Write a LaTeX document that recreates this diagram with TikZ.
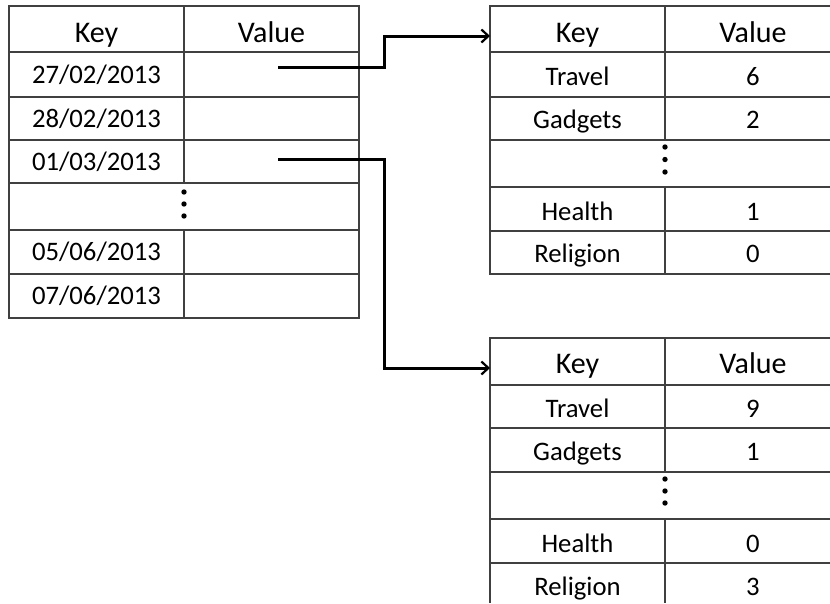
\documentclass[tikz,border=0pt]{standalone}
\usepackage{fontspec}
\setmainfont{Carlito}
\usetikzlibrary{arrows.meta}
\tikzset{
  grid/.style={draw=black!75, line width=1.2pt},
  hd/.style={anchor=base, inner sep=0pt, font=\fontsize{30}{32}\selectfont},
  cell/.style={anchor=base, inner sep=0pt, font=\fontsize{26.7}{28}\selectfont},
  conn/.style={draw=black, line width=3pt, -{Straight Barb[length=7pt,width=13pt,line width=2.2pt]}},
  dotfill/.style={fill=black}
}
\begin{document}
\begin{tikzpicture}[x=1pt,y=-1pt]
\useasboundingbox (0,0) rectangle (830,603);
% ---------- left table ----------
\draw[grid] (9,6) rectangle (359,318);
\foreach \yy in {52,97,140,183,230,274} \draw[grid] (9,\yy) -- (359,\yy);
\draw[grid] (184,6) -- (184,183);
\draw[grid] (184,230) -- (184,318);
\node[hd] (Lhk) at (96.5,42) {Key};
\node[hd] (Lhv) at (271.5,42) {Value};
\node[cell] (L1) at (96.5,83) {27/02/2013};
\node[cell] (L2) at (96.5,127) {28/02/2013};
\node[cell] (L3) at (96.5,170) {01/03/2013};
\node[cell] (L5) at (96.5,260) {05/06/2013};
\node[cell] (L6) at (96.5,304) {07/06/2013};
\foreach \yy in {192,204,216} \fill[dotfill] (184,\yy) circle (2.7);
% ---------- top right table ----------
\draw[grid] (830,6) -- (490,6) -- (490,274) -- (830,274);
\foreach \yy in {52,97,140,187,231} \draw[grid] (490,\yy) -- (830,\yy);
\draw[grid] (665,6) -- (665,140);
\draw[grid] (665,187) -- (665,274);
\node[hd] (Thk) at (577.5,42) {Key};
\node[hd] (Thv) at (753,42) {Value};
\node[cell] (T1k) at (577.5,85) {Travel};
\node[cell] (T1v) at (753,85) {6};
\node[cell] (T2k) at (577.5,128) {Gadgets};
\node[cell] (T2v) at (753,128) {2};
\node[cell] (T4k) at (577.5,220) {Health};
\node[cell] (T4v) at (753,220) {1};
\node[cell] (T5k) at (577.5,262) {Religion};
\node[cell] (T5v) at (753,262) {0};
\foreach \yy in {147,159.5,172} \fill[dotfill] (665,\yy) circle (2.7);
% ---------- bottom right table ----------
\draw[grid] (830,338) -- (490,338) -- (490,603);
\foreach \yy in {385,428,472,519,563} \draw[grid] (490,\yy) -- (830,\yy);
\draw[grid] (665,338) -- (665,472);
\draw[grid] (665,519) -- (665,603);
\node[hd] (Bhk) at (577.5,373) {Key};
\node[hd] (Bhv) at (753,373) {Value};
\node[cell] (B1k) at (577.5,417) {Travel};
\node[cell] (B1v) at (753,417) {9};
\node[cell] (B2k) at (577.5,460) {Gadgets};
\node[cell] (B2v) at (753,460) {1};
\node[cell] (B4k) at (577.5,552) {Health};
\node[cell] (B4v) at (753,552) {0};
\node[cell] (B5k) at (577.5,595) {Religion};
\node[cell] (B5v) at (753,595) {3};
\foreach \yy in {479,491,503} \fill[dotfill] (665,\yy) circle (2.7);
% ---------- connectors ----------
\coordinate (s1) at (278,67);
\coordinate (s2) at (278,159);
\coordinate (e1) at (490,36);
\coordinate (e2) at (490,368);
\draw[conn] (s1) -| ([xshift=-106pt]e1) -- (e1);
\draw[conn] (s2) -| ([xshift=-106pt]e2) -- (e2);
\end{tikzpicture}
\end{document}
